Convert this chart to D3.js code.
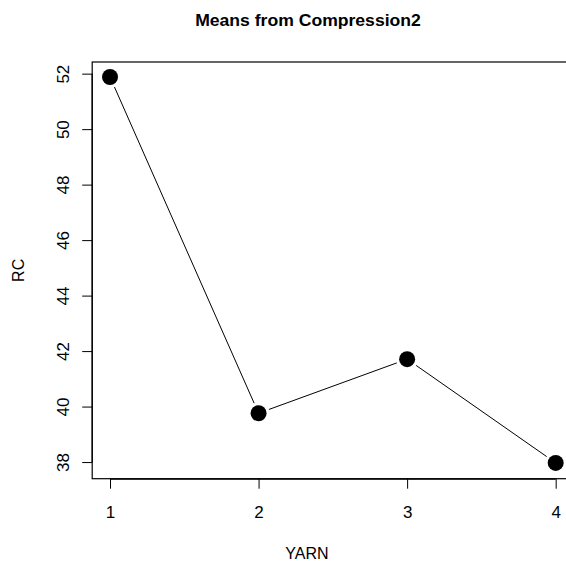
<!DOCTYPE html>
<html>
<head>
<meta charset="utf-8">
<script src="https://cdn.jsdelivr.net/npm/d3@7"></script>
<style>
  html, body { margin: 0; padding: 0; background: #fff; }
  svg { display: block; font-family: "Liberation Sans", Arial, sans-serif; }
</style>
</head>
<body>
<svg id="chart" width="566" height="563"></svg>
<script>
// Mean RC for each YARN level
const yarnLevels = [1, 2, 3, 4];
const rcMeans = [51.88, 39.76, 41.71, 37.97];
const xTicks = [1, 2, 3, 4];
const yTicks = [38, 40, 42, 44, 46, 48, 50, 52];

const svg = d3.select("#chart");

// Plot region (right edge lies beyond the window)
const plotLeft = 92.2, plotRight = 573.5, plotTop = 62, plotBottom = 478.7;

const x = d3.scaleLinear().domain([0.88, 4.12]).range([plotLeft, plotRight]);
const y = d3.scaleLinear().domain([37.40, 52.42]).range([plotBottom, plotTop]);

const tickFont = 17, labelFont = 16;

// Box around plot region
svg.append("rect")
  .attr("x", plotLeft).attr("y", plotTop)
  .attr("width", plotRight - plotLeft).attr("height", plotBottom - plotTop)
  .attr("fill", "none").attr("stroke", "#000").attr("stroke-width", 1.2);

// Axes
const xAxis = d3.axisBottom(x).tickValues(xTicks).tickSize(10).tickPadding(17).tickFormat(d3.format("d"));
const gx = svg.append("g").attr("transform", `translate(0,${plotBottom})`).call(xAxis);
gx.select(".domain").attr("d", `M${x(1)},0.5H${x(4)}`).attr("stroke-width", 1.2);
gx.selectAll("text").attr("font-size", tickFont).attr("fill", "#000")
  .attr("font-family", "Liberation Sans, Arial, sans-serif");

const yAxis = d3.axisLeft(y).tickValues(yTicks).tickSize(10).tickFormat(d3.format("d"));
const gy = svg.append("g").attr("transform", `translate(${plotLeft},0)`).call(yAxis);
gy.select(".domain").attr("d", `M0,${y(38)}V${y(52)}`).attr("stroke-width", 1.2);
gy.selectAll("text")
  .attr("font-size", tickFont).attr("fill", "#000")
  .attr("font-family", "Liberation Sans, Arial, sans-serif")
  .attr("x", null).attr("dy", null)
  .attr("text-anchor", "middle")
  .attr("transform", "translate(-23,0) rotate(-90)")
  .attr("y", 0);

// Line segments between points, leaving a gap around each marker
const pts = yarnLevels.map((v, i) => [x(v), y(rcMeans[i])]);
const gap = 11;
const segs = d3.pairs(pts).map(([a, b]) => {
  const dx = b[0] - a[0], dy = b[1] - a[1];
  const len = Math.hypot(dx, dy);
  const ux = dx / len, uy = dy / len;
  return [[a[0] + ux * gap, a[1] + uy * gap], [b[0] - ux * gap, b[1] - uy * gap]];
});
svg.append("g").selectAll("line").data(segs).join("line")
  .attr("x1", d => d[0][0]).attr("y1", d => d[0][1])
  .attr("x2", d => d[1][0]).attr("y2", d => d[1][1])
  .attr("stroke", "#000").attr("stroke-width", 1);

// Markers
svg.append("g").selectAll("circle").data(yarnLevels).join("circle")
  .attr("cx", d => x(d)).attr("cy", (d, i) => y(rcMeans[i]))
  .attr("r", 8).attr("fill", "#000");

// Title and axis labels
svg.append("text").attr("transform", "translate(308,26) scale(1.1,1)").attr("text-anchor", "middle")
  .attr("font-size", 16).attr("font-weight", "bold").text("Means from Compression2");
svg.append("text").attr("x", 307).attr("y", 559).attr("text-anchor", "middle")
  .attr("font-size", labelFont).text("YARN");
svg.append("text").attr("transform", `translate(23.5,${(plotTop + plotBottom) / 2}) rotate(-90)`)
  .attr("text-anchor", "middle").attr("font-size", labelFont).text("RC");
</script>
</body>
</html>
